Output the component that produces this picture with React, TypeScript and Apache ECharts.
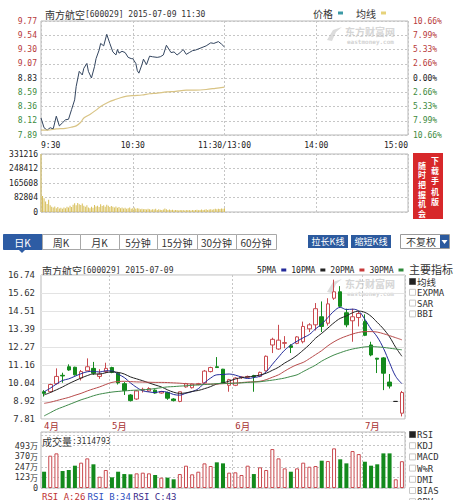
import React, { useEffect, useRef } from 'react';
import * as echarts from 'echarts';

// ---------- intraday (2015-07-09) ----------
const timeTickLabels: Record<number, string> = { 0: '9:30', 60: '10:30', 120: '11:30/13:00', 180: '14:00', 240: '15:00' };
const priceTicks = ['7.89', '8.12', '8.36', '8.59', '8.83', '9.07', '9.30', '9.54', '9.77'];
const pctTicks = ['10.66%', '7.99%', '5.33%', '2.66%', '0.00%', '2.66%', '5.33%', '7.99%', '10.66%'];

const priceMinutes = [0, 2, 4, 6, 8, 10, 12, 14, 16, 18, 20, 22, 23, 25, 27, 28, 30, 31, 33, 35, 36, 38, 39, 41, 43, 45, 47, 49, 50, 51, 53, 55, 57, 59, 60, 62, 63, 64, 66, 67, 69, 71, 73, 76, 78, 80, 82, 84, 85, 87, 89, 91, 93, 95, 97, 99, 101, 104, 106, 108, 111, 113, 116, 118, 120];
const priceValues = [8.17, 8.01, 7.97, 8.01, 7.99, 8.2, 8.04, 8.09, 8.14, 8.15, 8.31, 8.47, 8.69, 8.94, 8.88, 8.99, 9.07, 8.94, 8.83, 9.02, 9.15, 9.29, 9.4, 9.36, 9.55, 9.4, 9.26, 9.21, 9.3, 9.24, 9.27, 9.25, 9.17, 9.15, 9.15, 9.07, 8.95, 8.91, 9.05, 9.14, 9.05, 9.19, 9.18, 9.17, 9.18, 9.21, 9.37, 9.29, 9.25, 9.26, 9.21, 9.25, 9.3, 9.22, 9.25, 9.28, 9.29, 9.32, 9.34, 9.36, 9.41, 9.4, 9.43, 9.39, 9.34];
const avgMinutes = [0, 4, 10, 16, 20, 23, 26, 28, 32, 36, 39, 44, 48, 54, 60, 66, 71, 76, 82, 88, 95, 101, 108, 114, 120];
const avgValues = [7.97, 7.97, 7.99, 8.0, 8.02, 8.04, 8.1, 8.17, 8.23, 8.3, 8.36, 8.43, 8.47, 8.52, 8.54, 8.55, 8.57, 8.58, 8.6, 8.61, 8.63, 8.63, 8.64, 8.66, 8.68];
const minuteVolumes = [331216, 92000, 78000, 60000, 45000, 70000, 38000, 30000, 25000, 32000, 22000, 28000, 20000, 24000, 18000, 26000, 22000, 30000, 25000, 36000, 28000, 42000, 50000, 38000, 52000, 44000, 40000, 48000, 35000, 30000, 38000, 26000, 22000, 30000, 24000, 40000, 32000, 36000, 28000, 44000, 34000, 38000, 30000, 42000, 36000, 28000, 34000, 30000, 26000, 32000, 24000, 28000, 22000, 26000, 20000, 24000, 18000, 22000, 25000, 19000, 21000, 26000, 18000, 22000, 20000, 16000, 19000, 15000, 17000, 14000, 18000, 15000, 13000, 16000, 14000, 18000, 12000, 15000, 13000, 11000, 14000, 20000, 15000, 12000, 14000, 11000, 13000, 10000, 12000, 11000, 9000, 12000, 10000, 11000, 9000, 12000, 10000, 11000, 9000, 12000, 10000, 11000, 13000, 10000, 12000, 14000, 11000, 13000, 15000, 12000, 14000, 16000, 13000, 15000, 18000, 16000, 19000, 17000, 20000, 18000, 21000];
const minuteVolTicks = [0, 82804, 165608, 248412, 331216];

// ---------- daily K ----------
const dates = ['2015-04-16', '2015-04-17', '2015-04-20', '2015-04-21', '2015-04-22', '2015-04-23', '2015-04-24', '2015-04-27', '2015-04-28', '2015-04-29', '2015-04-30',
  '2015-05-04', '2015-05-05', '2015-05-06', '2015-05-07', '2015-05-08', '2015-05-11', '2015-05-12', '2015-05-13', '2015-05-14', '2015-05-15', '2015-05-18', '2015-05-19', '2015-05-20', '2015-05-21', '2015-05-22', '2015-05-25', '2015-05-26', '2015-05-27', '2015-05-28', '2015-05-29',
  '2015-06-01', '2015-06-02', '2015-06-03', '2015-06-04', '2015-06-05', '2015-06-08', '2015-06-09', '2015-06-10', '2015-06-11', '2015-06-12', '2015-06-15', '2015-06-16', '2015-06-17', '2015-06-18', '2015-06-19', '2015-06-23', '2015-06-24', '2015-06-25', '2015-06-26', '2015-06-29', '2015-06-30',
  '2015-07-01', '2015-07-02', '2015-07-03', '2015-07-06', '2015-07-07', '2015-07-08', '2015-07-09'];
const opens = [9.5, 9.5, 10.0, 10.52, 11.05, 11.02, 10.35, 10.8, 10.95, 10.45, 10.75, 11.0, 10.65, 10.0, 9.3, 9.05, 9.6, 9.55, 9.6, 9.42, 9.45, 9.05, 8.9, 9.8, 9.75, 9.95, 10.05, 10.75, 11.05, 10.9, 9.9, 9.9, 10.38, 10.4, 10.5, 10.45, 10.8, 12.4, 12.15, 12.5, 12.35, 12.5, 12.6, 13.4, 13.65, 14.15, 13.75, 15.3, 15.7, 14.4, 13.9, 14.1, 13.85, 12.4, 11.58, 11.6, 10.1, 8.9, 8.17];
const closes = [9.4, 9.95, 10.45, 10.48, 10.85, 10.55, 10.75, 11.05, 10.65, 10.6, 10.95, 10.7, 10.05, 9.58, 8.95, 9.55, 9.65, 9.7, 9.42, 9.5, 9.1, 8.95, 9.5, 10.0, 9.98, 10.0, 10.78, 11.0, 11.0, 10.05, 10.25, 10.35, 10.42, 10.45, 10.42, 10.7, 11.7, 12.75, 12.7, 12.55, 12.25, 12.9, 13.55, 13.65, 14.65, 13.55, 14.95, 15.7, 14.8, 13.65, 14.15, 14.35, 13.0, 11.78, 11.52, 10.65, 9.85, 8.9, 9.45];
const lows = [9.2, 9.45, 9.95, 10.06, 10.8, 10.5, 10.2, 10.8, 10.55, 10.3, 10.65, 10.65, 9.95, 9.3, 8.9, 9.0, 9.45, 9.5, 9.38, 9.38, 9.0, 8.9, 8.85, 9.75, 9.7, 9.9, 10.0, 10.7, 10.98, 10.0, 9.5, 9.85, 10.3, 10.35, 9.5, 10.4, 10.75, 11.9, 12.1, 12.2, 11.9, 12.45, 12.5, 13.2, 13.3, 13.2, 13.6, 15.2, 14.75, 13.5, 12.6, 13.55, 12.95, 11.7, 10.66, 9.6, 9.7, 8.9, 7.97];
const highs = [9.6, 10.0, 10.95, 10.68, 11.2, 11.05, 10.85, 11.57, 11.35, 10.9, 11.3, 11.05, 10.7, 10.1, 9.35, 9.6, 9.75, 9.78, 9.65, 9.55, 9.5, 9.1, 9.5, 10.05, 10.0, 10.05, 10.85, 11.05, 11.65, 10.92, 10.3, 10.4, 10.45, 10.5, 10.55, 10.75, 11.75, 12.85, 13.65, 12.95, 12.45, 12.95, 13.85, 13.75, 15.0, 15.1, 15.3, 16.45, 16.05, 14.65, 14.65, 14.5, 14.3, 12.6, 11.6, 11.65, 10.6, 8.9, 9.55];
const ma5 = [9.5, 9.72, 9.98, 10.2, 10.3, 10.46, 10.62, 10.74, 10.77, 10.72, 10.8, 10.79, 10.59, 10.38, 10.05, 9.77, 9.56, 9.49, 9.45, 9.52, 9.47, 9.33, 9.29, 9.41, 9.51, 9.69, 10.05, 10.35, 10.55, 10.57, 10.6, 10.53, 10.41, 10.32, 10.38, 10.47, 10.74, 11.2, 11.65, 12.08, 12.39, 12.63, 12.85, 13.05, 13.4, 13.7, 14.1, 14.5, 14.73, 14.6, 14.62, 14.5, 13.99, 13.39, 12.9, 12.2, 11.3, 10.45, 10.0];
const ma10 = [9.3, 9.45, 9.62, 9.8, 10.0, 10.18, 10.35, 10.5, 10.6, 10.6, 10.68, 10.73, 10.7, 10.6, 10.42, 10.3, 10.18, 10.05, 9.92, 9.8, 9.62, 9.47, 9.4, 9.43, 9.52, 9.58, 9.69, 9.82, 9.98, 10.05, 10.16, 10.29, 10.37, 10.42, 10.47, 10.54, 10.65, 10.83, 11.02, 11.28, 11.5, 11.76, 12.08, 12.42, 12.82, 13.12, 13.45, 13.78, 14.05, 14.2, 14.4, 14.5, 14.42, 14.18, 13.8, 13.4, 12.9, 12.25, 11.7];
const ma20 = [8.78, 8.85, 8.95, 9.05, 9.15, 9.28, 9.4, 9.55, 9.68, 9.8, 9.95, 10.08, 10.13, 10.15, 10.13, 10.11, 10.1, 10.09, 10.08, 10.08, 10.07, 10.05, 10.03, 10.0, 9.98, 9.97, 9.97, 9.97, 9.98, 10.0, 10.02, 10.04, 10.07, 10.1, 10.12, 10.15, 10.25, 10.4, 10.55, 10.78, 11.0, 11.18, 11.32, 11.55, 11.8, 12.05, 12.35, 12.6, 12.8, 12.95, 13.08, 13.18, 13.23, 13.23, 13.2, 13.1, 12.98, 12.85, 12.72];
const ma30 = [8.0, 8.2, 8.4, 8.55, 8.7, 8.85, 9.0, 9.12, 9.25, 9.35, 9.42, 9.48, 9.52, 9.55, 9.58, 9.6, 9.62, 9.65, 9.7, 9.75, 9.8, 9.82, 9.85, 9.87, 9.9, 9.92, 9.95, 9.97, 10.0, 10.02, 10.02, 10.03, 10.05, 10.08, 10.1, 10.12, 10.17, 10.22, 10.28, 10.35, 10.45, 10.55, 10.75, 10.95, 11.15, 11.4, 11.6, 11.78, 11.92, 12.05, 12.15, 12.22, 12.28, 12.3, 12.28, 12.25, 12.2, 12.15, 12.1];
const dayVolumes = [189, 375, 402, 197, 209, 259, 294, 344, 275, 131, 209, 124, 189, 162, 159, 170, 178, 170, 151, 120, 120, 101, 162, 259, 159, 189, 286, 255, 298, 286, 178, 182, 151, 259, 162, 240, 209, 452, 344, 228, 189, 228, 294, 247, 255, 317, 313, 460, 333, 286, 429, 394, 305, 259, 275, 402, 402, 101, 311];
const kTicks = ['7.81', '8.92', '10.04', '11.16', '12.27', '13.39', '14.51', '15.62', '16.74'];
const dayVolTicks = ['0', '123万', '247万', '370万', '493万'];

const tabs = ['日K', '周K', '月K', '5分钟', '15分钟', '30分钟', '60分钟'];
const mainIndicators = ['均线', 'EXPMA', 'SAR', 'BBI'];
const subIndicators = ['RSI', 'KDJ', 'MACD', 'W%R', 'DMI', 'BIAS', 'OBV'];
const bannerRight = ['下', '载', '手', '机', '版'];
const bannerLeft = ['随', '时', '把', '握', '机', '会'];

const MONO = '"DejaVu Sans Mono", "Liberation Mono", monospace';
const CJK = '"Noto Sans CJK SC", sans-serif';
const LRED = '#b83a3a';
const LGREEN = '#3d8a3d';
const UP = '#c94a4f';
const DOWN = '#138a1c';
const GRID_BORDER = '#b9b9b9';

function txt(x: number, y: number, text: string, o: any = {}) {
  const size = o.size || 10;
  return {
    type: 'text', x, y, silent: true,
    style: { text, fill: o.fill || '#333', fontSize: size, fontFamily: o.family || CJK, fontWeight: o.weight || 'normal', textAlign: o.align || 'left', textVerticalAlign: 'middle', rich: o.rich, lineHeight: o.lineHeight ?? size },
  };
}

function buildOption() {
  const isMonthStart = (i: number) => i === 0 || dates[i].slice(5, 7) !== dates[i - 1].slice(5, 7);
  const rich2 = { c: { fontFamily: CJK, fontSize: 10, fill: '#333', lineHeight: 10 }, a: { fontFamily: MONO, fontSize: 8, fill: '#333', lineHeight: 10 } };

  const graphic: any[] = [];
  // titles
  graphic.push(txt(45, 14, '{c|南方航空}{a|[600029] 2015-07-09 11:30}', { rich: rich2 }));
  graphic.push(txt(42, 270, '{c|南方航空}{a|[600029] 2015-07-09}', { rich: rich2 }));
  graphic.push(txt(42, 441, '{c|成交量}{a|:3114793}', { rich: rich2 }));
  // watermarks
  [[31, 41], [283, 293]].forEach(([y1, y2]) => {
    graphic.push({ type: 'polygon', silent: true, shape: { points: [[327, y1 + 9], [333, y1 - 1], [342, y1 - 4], [336, y1 + 1], [332, y1 + 10]] }, style: { fill: '#dcdcdc' } });
    graphic.push(txt(345, y1, '东方财富网', { size: 10, fill: '#d6d6d6', weight: 'bold' }));
    graphic.push(txt(347, y2, 'eastmoney.com', { size: 6, fill: '#d2d2d2', family: MONO, weight: 'bold' }));
  });
  // red banner
  graphic.push({ type: 'rect', silent: true, shape: { x: 413, y: 153, width: 30, height: 66 }, style: { fill: '#d7282a' } });
  bannerRight.forEach((c, i) => graphic.push(txt(435, 160 + i * 10.4, c, { fill: '#fff', size: 8, lineHeight: 8, weight: 'bold', align: 'center' })));
  bannerLeft.forEach((c, i) => graphic.push(txt(422, 165 + i * 9.7, c, { fill: '#fff', size: 8, lineHeight: 8, weight: 'bold', align: 'center' })));
  // tabs
  const tabEdges = [3, 42, 80, 119, 157, 197, 236, 276];
  tabs.forEach((t, i) => {
    const x0 = tabEdges[i], x1 = tabEdges[i + 1];
    graphic.push({ type: 'rect', silent: true, shape: { x: x0 + 0.5, y: 234.5, width: x1 - x0, height: 15 }, style: { fill: i === 0 ? '#2d5ca4' : '#fff', stroke: i === 0 ? '#2d5ca4' : '#a8a8a8', lineWidth: 1 } });
    graphic.push(txt((x0 + x1) / 2, 242, t, { align: 'center', fill: i === 0 ? '#fff' : '#333', size: 10 }));
  });
  graphic.push({ type: 'polygon', silent: true, shape: { points: [[19, 250], [25, 250], [22, 253]] }, style: { fill: '#2d5ca4' } });
  // buttons
  [['拉长K线', 308], ['缩短K线', 351]].forEach(([t, x]) => {
    graphic.push({ type: 'rect', silent: true, shape: { x: x as number, y: 235, width: 40, height: 13 }, style: { fill: '#2c5a9e' } });
    graphic.push(txt((x as number) + 20, 241.5, t as string, { align: 'center', fill: '#fff', size: 9 }));
  });
  graphic.push({ type: 'rect', silent: true, shape: { x: 400.5, y: 234.5, width: 49, height: 14 }, style: { fill: '#fff', stroke: '#9a9a9a' } });
  graphic.push(txt(406, 241.5, '不复权', { size: 10 }));
  graphic.push({ type: 'rect', silent: true, shape: { x: 440, y: 235, width: 9, height: 13 }, style: { fill: '#2c5a9e' } });
  graphic.push({ type: 'polygon', silent: true, shape: { points: [[441.5, 240], [447.5, 240], [444.5, 244]] }, style: { fill: '#fff' } });
  // indicator panels
  graphic.push(txt(409, 268.5, '主要指标', { size: 11 }));
  mainIndicators.forEach((t, i) => {
    const y = 282 + i * 10.8;
    graphic.push({ type: 'rect', silent: true, shape: { x: 409.5, y: y - 3.5, width: 6, height: 6 }, style: { fill: i === 0 ? '#222' : '#fff', stroke: i === 0 ? '#555' : '#c8c8c8' } });
    graphic.push(txt(417, y, t, { size: i === 0 ? 9.5 : 9, family: i === 0 ? CJK : MONO }));
  });
  subIndicators.forEach((t, i) => {
    const y = 435 + i * 11.2;
    graphic.push({ type: 'rect', silent: true, shape: { x: 409.5, y: y - 3.5, width: 6, height: 6 }, style: { fill: i === 0 ? '#222' : '#fff', stroke: i === 0 ? '#555' : '#c8c8c8' } });
    graphic.push(txt(417, y, t, { size: 9, family: MONO }));
  });
  // RSI line
  graphic.push(txt(42, 497, '{r|RSI_A:26} {b|RSI_B:34} {p|RSI_C:43}', {
    rich: {
      r: { fontFamily: MONO, fontSize: 9, fill: '#c03434', lineHeight: 9 },
      b: { fontFamily: MONO, fontSize: 9, fill: '#2f4fc0', lineHeight: 9 },
      p: { fontFamily: MONO, fontSize: 9, fill: '#3a2a8a', lineHeight: 9 },
    },
  }));

  const labelRich = {
    r: { color: LRED, fontFamily: MONO, fontSize: 8 },
    g: { color: LGREEN, fontFamily: MONO, fontSize: 8 },
    k: { color: '#222', fontFamily: MONO, fontSize: 8 },
  };
  const cls = (i: number) => (i > 4 ? 'r' : i < 4 ? 'g' : 'k');
  const dashed = { show: true, lineStyle: { color: '#c6c6c6', type: [2, 2] as any, width: 1 } };

  const candleData = dates.map((d, i) => {
    const v = [opens[i], closes[i], lows[i], highs[i]];
    if (opens[i] === closes[i]) {
      return { value: v, itemStyle: { color: '#222', color0: '#222', borderColor: '#222', borderColor0: '#222' } };
    }
    return v;
  });

  return {
    animation: false,
    backgroundColor: '#fff',
    textStyle: { fontFamily: MONO },
    legend: [
      {
        data: [{ name: '价格', itemStyle: { color: '#3c9aa6' } }, { name: '均线', itemStyle: { color: '#e6d27a' } }],
        left: 313, top: 8, align: 'right', icon: 'rect', itemWidth: 5, itemHeight: 3, itemGap: 13, selectedMode: false, padding: 0,
        textStyle: { fontFamily: CJK, fontSize: 10, color: '#333' },
      },
      {
        data: [{ name: '5PMA', itemStyle: { color: '#232a9a' } }, { name: '10PMA', itemStyle: { color: '#222' } }, { name: '20PMA', itemStyle: { color: '#c83a3a' } }, { name: '30PMA', itemStyle: { color: '#2e8a3a' } }],
        left: 257, top: 266, align: 'right', icon: 'rect', itemWidth: 5, itemHeight: 3, itemGap: 5, selectedMode: false, padding: 0,
        textStyle: { fontFamily: MONO, fontSize: 8, color: '#222' },
      },
    ],
    grid: [
      { left: 41, top: 21, width: 367, height: 114, show: true, borderColor: GRID_BORDER, borderWidth: 1 },
      { left: 41, top: 154, width: 367, height: 58, show: true, borderColor: GRID_BORDER, borderWidth: 1 },
      { left: 41, top: 275, width: 364, height: 144, show: true, borderColor: GRID_BORDER, borderWidth: 1 },
      { left: 41, top: 432, width: 364, height: 56, show: true, borderColor: GRID_BORDER, borderWidth: 1 },
    ],
    xAxis: [
      {
        type: 'value', gridIndex: 0, min: 0, max: 240, interval: 60,
        axisLine: { show: false }, axisTick: { show: false }, splitLine: dashed,
        axisLabel: { formatter: (v: number) => timeTickLabels[v] ?? '', fontFamily: MONO, fontSize: 8, color: '#222', margin: 6, alignMinLabel: 'left', alignMaxLabel: 'right' },
      },
      {
        type: 'value', gridIndex: 1, min: 0, max: 240, interval: 60,
        axisLine: { show: false }, axisTick: { show: false }, axisLabel: { show: false }, splitLine: dashed,
      },
      {
        type: 'category', gridIndex: 2, data: dates,
        axisLine: { show: false }, axisTick: { show: false },
        splitLine: { show: true, interval: (i: number) => i > 0 && isMonthStart(i), lineStyle: { color: '#c6c6c6', type: [2, 2] as any } },
        axisLabel: {
          interval: (i: number) => isMonthStart(i), align: 'left', margin: 2,
          formatter: (v: string) => `{a|${Number(v.slice(5, 7))}}{c|月}`,
          rich: { a: { fontFamily: MONO, fontSize: 9, color: '#a83232', lineHeight: 9 }, c: { fontFamily: CJK, fontSize: 9.5, color: '#a83232', lineHeight: 9 } },
        },
      },
      {
        type: 'category', gridIndex: 3, data: dates,
        axisLine: { show: false }, axisTick: { show: false }, axisLabel: { show: false },
        splitLine: { show: true, interval: (i: number) => i > 0 && isMonthStart(i), lineStyle: { color: '#c6c6c6', type: [2, 2] as any } },
      },
    ],
    yAxis: [
      { type: 'value', gridIndex: 0, min: 7.89, max: 9.77, show: false, position: 'left' },
      {
        type: 'value', gridIndex: 0, min: 0, max: 8, interval: 1, position: 'left',
        axisLine: { show: false }, axisTick: { show: false }, splitLine: dashed,
        axisLabel: { margin: 4, formatter: (v: number) => `{${cls(v)}|${priceTicks[v]}}`, rich: labelRich },
      },
      {
        type: 'value', gridIndex: 0, min: 0, max: 8, interval: 1, position: 'right',
        axisLine: { show: false }, axisTick: { show: false }, splitLine: { show: false },
        axisLabel: { margin: 5, formatter: (v: number) => `{${cls(v)}|${pctTicks[v]}}`, rich: labelRich },
      },
      {
        type: 'value', gridIndex: 1, min: 0, max: 331216, interval: 82804, position: 'left',
        axisLine: { show: false }, axisTick: { show: false }, splitLine: dashed,
        axisLabel: { margin: 3, formatter: (v: number) => (minuteVolTicks.includes(v) ? String(v) : ''), fontFamily: MONO, fontSize: 8, color: '#222' },
      },
      { type: 'value', gridIndex: 2, min: 7.81, max: 16.74, show: false, position: 'left' },
      {
        type: 'value', gridIndex: 2, min: 0, max: 8, interval: 1, position: 'left',
        axisLine: { show: false }, axisTick: { show: false },
        splitLine: { show: true, lineStyle: { color: '#e3e3e3' } },
        axisLabel: { margin: 6, formatter: (v: number) => kTicks[v], fontFamily: MONO, fontSize: 9, color: '#333' },
      },
      {
        type: 'value', gridIndex: 3, min: 0, max: 650, interval: 123.25, position: 'left',
        axisLine: { show: false }, axisTick: { show: false }, splitLine: dashed,
        axisLabel: {
          margin: 3,
          formatter: (v: number) => { const k = Math.round(v / 123.25); if (v > 600) return ''; const s = dayVolTicks[k]; return s === '0' ? '{a|0}' : `{a|${s.replace('万', '')}}{c|万}`; },
          rich: { a: { fontFamily: MONO, fontSize: 8.5, color: '#333', lineHeight: 8 }, c: { fontFamily: CJK, fontSize: 8, color: '#333', lineHeight: 8 } },
        },
      },
    ],
    series: [
      {
        name: '价格', type: 'line', xAxisIndex: 0, yAxisIndex: 0, symbol: 'none',
        data: priceMinutes.map((m, i) => [m, priceValues[i]]),
        lineStyle: { color: '#33455f', width: 1 }, itemStyle: { color: '#33455f' },
      },
      {
        name: '均线', type: 'line', xAxisIndex: 0, yAxisIndex: 0, symbol: 'none', smooth: 0.3,
        data: avgMinutes.map((m, i) => [m, avgValues[i]]),
        lineStyle: { color: '#d9c485', width: 1.2 }, itemStyle: { color: '#d9c485' },
      },
      {
        name: '分时量', type: 'bar', xAxisIndex: 1, yAxisIndex: 3, barWidth: 1,
        data: minuteVolumes.map((v, i) => [i, v]),
        itemStyle: { color: '#d8bf5a' },
      },
      {
        name: '日K', type: 'candlestick', xAxisIndex: 2, yAxisIndex: 4, barWidth: 4,
        data: candleData,
        itemStyle: { color: '#ffffff', color0: DOWN, borderColor: UP, borderColor0: DOWN, borderWidth: 1 },
      },
      { name: '5PMA', type: 'line', xAxisIndex: 2, yAxisIndex: 4, symbol: 'none', smooth: 0.4, data: ma5, lineStyle: { color: '#232a9a', width: 1 }, itemStyle: { color: '#232a9a' } },
      { name: '10PMA', type: 'line', xAxisIndex: 2, yAxisIndex: 4, symbol: 'none', smooth: 0.4, data: ma10, lineStyle: { color: '#222', width: 1 }, itemStyle: { color: '#222' } },
      { name: '20PMA', type: 'line', xAxisIndex: 2, yAxisIndex: 4, symbol: 'none', smooth: 0.4, data: ma20, lineStyle: { color: '#b84c4c', width: 1 }, itemStyle: { color: '#c83a3a' } },
      { name: '30PMA', type: 'line', xAxisIndex: 2, yAxisIndex: 4, symbol: 'none', smooth: 0.4, data: ma30, lineStyle: { color: '#3f8a4a', width: 1 }, itemStyle: { color: '#2e8a3a' } },
      {
        name: '成交量', type: 'bar', xAxisIndex: 3, yAxisIndex: 6, barWidth: 4,
        data: dayVolumes.map((v, i) => ({
          value: v,
          itemStyle: closes[i] >= opens[i] ? { color: '#fff', borderColor: UP, borderWidth: 1 } : { color: DOWN },
        })),
      },
    ],
    graphic,
  };
}

export default function App() {
  const ref = useRef<HTMLDivElement>(null);
  useEffect(() => {
    const chart = echarts.init(ref.current!, null, { renderer: 'svg' });
    chart.setOption(buildOption() as any);
    return () => chart.dispose();
  }, []);
  return <div ref={ref} style={{ position: 'fixed', left: 0, top: 0, width: 455, height: 500, background: '#fff' }} />;
}
